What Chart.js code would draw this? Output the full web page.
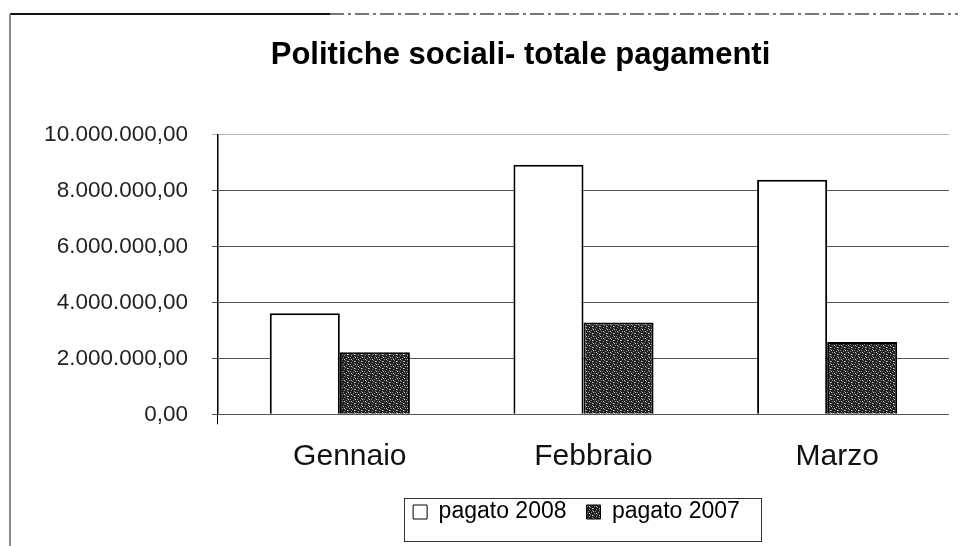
<!DOCTYPE html>
<html>
<head>
<meta charset="utf-8">
<script src="https://cdn.jsdelivr.net/npm/chart.js@4.4.1/dist/chart.umd.min.js"></script>
<style>
  html, body { margin: 0; padding: 0; background: #fff; }
  #wrap { position: relative; width: 958px; height: 546px; }
  canvas { display: block; }
</style>
</head>
<body>
<div id="wrap"><canvas id="c" width="958" height="546"></canvas></div>
<script>
const titleText = 'Politiche sociali- totale pagamenti';
const categories = ['Gennaio', 'Febbraio', 'Marzo'];
const seriesNames = ['pagato 2008', 'pagato 2007'];
const pagato2008 = [3610000, 8920000, 8380000];
const pagato2007 = [2220000, 3280000, 2580000];
const yTickValues = [0, 2000000, 4000000, 6000000, 8000000, 10000000];
const yTickLabels = ['0,00', '2.000.000,00', '4.000.000,00', '6.000.000,00', '8.000.000,00', '10.000.000,00'];

function makePattern() {
  const c = document.createElement('canvas');
  c.width = 7; c.height = 7;
  const g = c.getContext('2d');
  g.fillStyle = '#222';
  g.fillRect(0, 0, 7, 7);
  g.fillStyle = '#8c8c8c';
  [[0,0],[3,1],[6,2],[2,3],[5,4],[1,5],[4,6]].forEach(p => g.fillRect(p[0], p[1], 1, 1));
  g.fillStyle = '#d0d0d0';
  [[5,0],[1,2],[4,4]].forEach(p => g.fillRect(p[0], p[1], 1, 1));
  return g.createPattern(c, 'repeat');
}
const stipple = makePattern();

const framePlugin = {
  id: 'frame',
  afterLayout(chart) {
    if (chart.titleBlock) { chart.titleBlock.left = 92; chart.titleBlock.width = chart.titleBlock.right - 92; }
    if (chart.legend) { chart.legend.left -= 7; chart.legend.right -= 7; }
  },
  beforeDraw(chart) {
    const ctx = chart.ctx;
    ctx.save();
    ctx.strokeStyle = '#111';
    ctx.lineWidth = 2;
    ctx.beginPath(); ctx.moveTo(10, 14); ctx.lineTo(330, 14); ctx.stroke();
    ctx.strokeStyle = '#777';
    ctx.setLineDash([14, 4, 3, 4]);
    ctx.beginPath(); ctx.moveTo(330, 14); ctx.lineTo(958, 14); ctx.stroke();
    ctx.setLineDash([]);
    ctx.strokeStyle = '#8a8a8a';
    ctx.beginPath(); ctx.moveTo(10, 14); ctx.lineTo(10, 546); ctx.stroke();
    ctx.restore();
  },
  afterDraw(chart) {
    const lg = chart.legend;
    if (!lg || !lg.legendHitBoxes || !lg.legendHitBoxes.length) return;
    const hb = lg.legendHitBoxes;
    let l = Infinity, r = -Infinity, t = Infinity;
    hb.forEach(b => { l = Math.min(l, b.left); r = Math.max(r, b.left + b.width); t = Math.min(t, b.top); });
    const ctx = chart.ctx;
    ctx.save();
    ctx.strokeStyle = '#333';
    ctx.lineWidth = 1;
    ctx.strokeRect(Math.round(l - 9) + 0.5, Math.round(t - 3) + 0.5, Math.round(r - l + 30), 43);
    ctx.restore();
  }
};

new Chart(document.getElementById('c'), {
  type: 'bar',
  data: {
    labels: categories,
    datasets: [
      { label: seriesNames[0], data: pagato2008, backgroundColor: '#ffffff', borderColor: '#000', borderWidth: 2,
        categoryPercentage: 0.575, barPercentage: 1 },
      { label: seriesNames[1], data: pagato2007, backgroundColor: stipple, borderColor: '#000', borderWidth: 2,
        categoryPercentage: 0.575, barPercentage: 1 }
    ]
  },
  options: {
    responsive: false,
    animation: false,
    devicePixelRatio: 1,
    layout: { padding: { left: 0, right: 9, top: 0, bottom: 12.5 } },
    plugins: {
      tooltip: { enabled: false },
      title: {
        display: true, text: titleText, color: '#000',
        font: { family: '"Liberation Sans", Arial, sans-serif', size: 31, weight: 'bold', lineHeight: 1.2 },
        padding: { top: 37, bottom: 60.3 }
      },
      legend: {
        display: true, position: 'bottom', fullSize: false,
        labels: {
          color: '#000', boxWidth: 14, boxHeight: 14, padding: 20,
          font: { family: '"Liberation Sans", Arial, sans-serif', size: 23 },
          generateLabels(chart) {
            return chart.data.datasets.map((ds, i) => ({
              text: ds.label, fillStyle: ds.backgroundColor, strokeStyle: '#000',
              lineWidth: 1, hidden: false, datasetIndex: i, fontColor: '#000'
            }));
          }
        }
      }
    },
    scales: {
      x: {
        offset: true,
        border: { display: false },
        grid: {
          offset: true, drawOnChartArea: false, drawTicks: true, tickLength: 10,
          color: ctx => (ctx.index === 0 || ctx.index === categories.length) ? '#000' : 'rgba(0,0,0,0)'
        },
        ticks: {
          color: '#111', padding: 14, labelOffset: 10, maxRotation: 0,
          font: { family: '"Liberation Sans", Arial, sans-serif', size: 30 }
        },
        afterFit(scale) { scale.height = 66.2; }
      },
      y: {
        min: 0, max: 10000000,
        afterBuildTicks(scale) { scale.ticks = yTickValues.map(v => ({ value: v })); },
        border: { display: true, color: '#000', width: 1.5 },
        grid: {
          drawTicks: true, tickLength: 6, lineWidth: 1,
          color: ctx => (ctx.tick && ctx.tick.value === 10000000) ? '#b5b5b5' : '#555'
        },
        ticks: {
          color: '#222', padding: 24,
          font: { family: '"Liberation Sans", Arial, sans-serif', size: 22.5 },
          callback(value) {
            const i = yTickValues.indexOf(value);
            return i >= 0 ? yTickLabels[i] : '';
          }
        },
        afterFit(scale) { scale.width = 218; }
      }
    }
  },
  plugins: [framePlugin]
});
</script>
</body>
</html>
